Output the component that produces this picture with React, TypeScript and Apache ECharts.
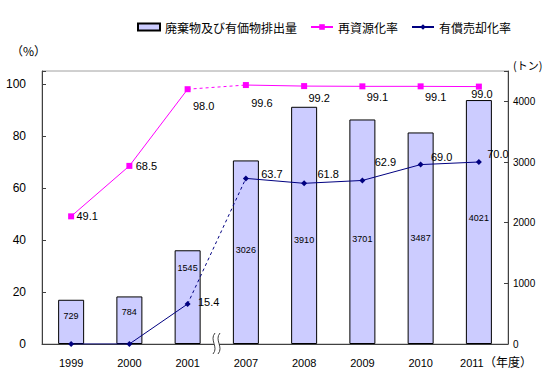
import React, { useEffect, useRef } from "react";
import * as echarts from "echarts";

const years = ["1999", "2000", "2001", "2007", "2008", "2009", "2010", "2011"];
const wasteAmount = [729, 784, 1545, 3026, 3910, 3701, 3487, 4021];
const recycleRate = [49.1, 68.5, 98.0, 99.6, 99.2, 99.1, 99.1, 99.0];
const saleRate = [0, 0, 15.4, 63.7, 61.8, 62.9, 69.0, 70.0];
const leftTicks = [0, 20, 40, 60, 80, 100];
const rightTicks = [0, 1000, 2000, 3000, 4000];

const BAR_NAME = "廃棄物及び有価物排出量";
const PINK_NAME = "再資源化率";
const NAVY_NAME = "有償売却化率";

// label nudges (style only)
const barLabelNudge = [-6, -8, -29, -2, 15, 7, 0, -4];
const pinkLabelNudge = [[16, 0], [17, 0], [16, 17], [16, 18], [15, 12], [15, 11], [15, 11], [3, 7]];
const navyLabelNudge = [null, null, [21, -2], [26, -4], [24, -9], [23, -18], [21, -8], [19, -8]];

const BREAK_INDEX = 3; // the gap lies before this category

const FONT = "'Liberation Sans', 'Noto Sans CJK JP', sans-serif";
const CJK = "'Noto Sans CJK JP', sans-serif";

function segment(values: number[], from: number, to: number) {
  return values.map((v, i) => (i >= from && i <= to ? v : "-"));
}

export default function App() {
  const ref = useRef<HTMLDivElement>(null);
  useEffect(() => {
    if (!ref.current) return;
    const chart = echarts.init(ref.current, undefined, { renderer: "svg" });

    const pinkLabel = (i: number) => ({
      show: true,
      position: "inside",
      offset: pinkLabelNudge[i],
      color: "#000",
      fontSize: 11,
      fontFamily: FONT,
      formatter: (p: any) => Number(p.value).toFixed(1),
    });
    const navyLabel = (i: number) =>
      navyLabelNudge[i]
        ? {
            show: true,
            position: "inside",
            offset: navyLabelNudge[i],
            color: "#000",
            fontSize: 11,
            fontFamily: FONT,
            formatter: (p: any) => Number(p.value).toFixed(1),
          }
        : { show: false };

    const withLabels = (values: (number | string)[], lab: (i: number) => any) =>
      values.map((v, i) => (v === "-" ? "-" : { value: v, label: lab(i) }));

    const pinkStyle = { color: "#ff00ff", width: 1 };
    const navyStyle = { color: "#000080", width: 1 };

    const categoryData = years.map((y, i) =>
      i === years.length - 1 ? { value: y, textStyle: { padding: [0, 14, 0, 0] } } : y
    );

    chart.setOption({
      animation: false,
      backgroundColor: "#fff",
      textStyle: { fontFamily: FONT },
      legend: {
        left: 132,
        top: 16,
        itemWidth: 22,
        itemHeight: 7,
        itemGap: 13,
        data: [{ name: BAR_NAME, icon: "rect" }, PINK_NAME, NAVY_NAME],
        textStyle: { fontSize: 12, fontFamily: CJK, color: "#000" },
      },
      grid: {
        left: 42,
        right: 42,
        top: 71,
        bottom: 31,
        show: true,
        borderColor: "#a0a0a0",
        borderWidth: 1,
      },
      xAxis: {
        type: "category",
        data: categoryData,
        boundaryGap: true,
        axisLine: { lineStyle: { color: "#404040", width: 1 } },
        axisTick: {
          inside: true,
          length: 4,
          lineStyle: { color: "#404040" },
          interval: (index: number) => index !== BREAK_INDEX,
        },
        axisLabel: { fontSize: 11, color: "#000", margin: 13, fontFamily: FONT },
      },
      yAxis: [
        {
          type: "value",
          min: leftTicks[0],
          max: 105,
          interval: leftTicks[1] - leftTicks[0],
          axisLine: { show: true, lineStyle: { color: "#404040" } },
          axisTick: { show: true, inside: true, length: 4, lineStyle: { color: "#404040" } },
          splitLine: { show: false },
          axisLabel: {
            fontSize: 12,
            color: "#000",
            margin: 16,
            fontFamily: FONT,
            formatter: (v: number) => (leftTicks.includes(v) ? String(v) : ""),
          },
        },
        {
          type: "value",
          min: rightTicks[0],
          max: 4500,
          interval: rightTicks[1] - rightTicks[0],
          position: "right",
          axisLine: { show: true, lineStyle: { color: "#404040" } },
          axisTick: { show: true, inside: true, length: 4, lineStyle: { color: "#404040" } },
          splitLine: { show: false },
          axisLabel: {
            fontSize: 10,
            color: "#000",
            margin: 5,
            fontFamily: FONT,
            formatter: (v: number) => (rightTicks.includes(v) ? String(v) : ""),
          },
        },
      ],
      series: [
        {
          name: BAR_NAME,
          type: "bar",
          yAxisIndex: 1,
          barWidth: 26,
          itemStyle: { color: "#ccccff", borderColor: "#000", borderWidth: 1 },
          data: wasteAmount.map((v, i) => ({
            value: v,
            label: {
              show: true,
              position: "inside",
              offset: [0, barLabelNudge[i]],
              fontSize: 9,
              color: "#000",
              fontFamily: FONT,
            },
          })),
          z: 1,
        },
        {
          name: PINK_NAME,
          type: "line",
          yAxisIndex: 0,
          symbol: "rect",
          symbolSize: 6,
          itemStyle: { color: "#ff00ff" },
          lineStyle: pinkStyle,
          data: withLabels(segment(recycleRate, 0, BREAK_INDEX - 1), pinkLabel),
          z: 3,
        },
        {
          name: PINK_NAME,
          type: "line",
          yAxisIndex: 0,
          symbol: "none",
          itemStyle: { color: "#ff00ff" },
          lineStyle: { ...pinkStyle, type: [3, 3] },
          data: segment(recycleRate, BREAK_INDEX - 1, BREAK_INDEX),
          z: 2,
        },
        {
          name: PINK_NAME,
          type: "line",
          yAxisIndex: 0,
          symbol: "rect",
          symbolSize: 6,
          itemStyle: { color: "#ff00ff" },
          lineStyle: pinkStyle,
          data: withLabels(segment(recycleRate, BREAK_INDEX, years.length - 1), pinkLabel),
          z: 3,
        },
        {
          name: NAVY_NAME,
          type: "line",
          yAxisIndex: 0,
          symbol: "diamond",
          symbolSize: 6,
          itemStyle: { color: "#000080" },
          lineStyle: navyStyle,
          data: withLabels(segment(saleRate, 0, BREAK_INDEX - 1), navyLabel),
          z: 3,
        },
        {
          name: NAVY_NAME,
          type: "line",
          yAxisIndex: 0,
          symbol: "none",
          itemStyle: { color: "#000080" },
          lineStyle: { ...navyStyle, type: [3, 3] },
          data: segment(saleRate, BREAK_INDEX - 1, BREAK_INDEX),
          z: 2,
        },
        {
          name: NAVY_NAME,
          type: "line",
          yAxisIndex: 0,
          symbol: "diamond",
          symbolSize: 6,
          itemStyle: { color: "#000080" },
          lineStyle: navyStyle,
          data: withLabels(segment(saleRate, BREAK_INDEX, years.length - 1), navyLabel),
          z: 3,
        },
      ],
      graphic: [
        {
          type: "text",
          left: 11,
          top: 44,
          style: { text: "（%）", fontSize: 12, fontFamily: CJK, fill: "#000" },
        },
        {
          type: "text",
          left: 513,
          top: 59,
          style: { text: "(トン)", fontSize: 11, fontFamily: CJK, fill: "#000" },
        },
        {
          type: "text",
          left: 484,
          top: 355,
          style: { text: "（年度）", fontSize: 12, fontFamily: CJK, fill: "#000" },
        },
        {
          type: "rect",
          shape: { x: 214, y: 341, width: 5, height: 6 },
          style: { fill: "#fff" },
          z: 100,
        },
        {
          type: "bezierCurve",
          shape: { x1: 215, y1: 333, x2: 213, y2: 354, cpx1: 209, cpy1: 340, cpx2: 219, cpy2: 347 },
          style: { stroke: "#404040", fill: "none", lineWidth: 1 },
          z: 101,
        },
        {
          type: "bezierCurve",
          shape: { x1: 220, y1: 333, x2: 218, y2: 354, cpx1: 214, cpy1: 340, cpx2: 224, cpy2: 347 },
          style: { stroke: "#404040", fill: "none", lineWidth: 1 },
          z: 101,
        },
      ],
    });
    return () => chart.dispose();
  }, []);
  return (
    <div
      ref={ref}
      style={{ position: "fixed", left: 0, top: 0, width: 550, height: 375, background: "#fff" }}
    />
  );
}
